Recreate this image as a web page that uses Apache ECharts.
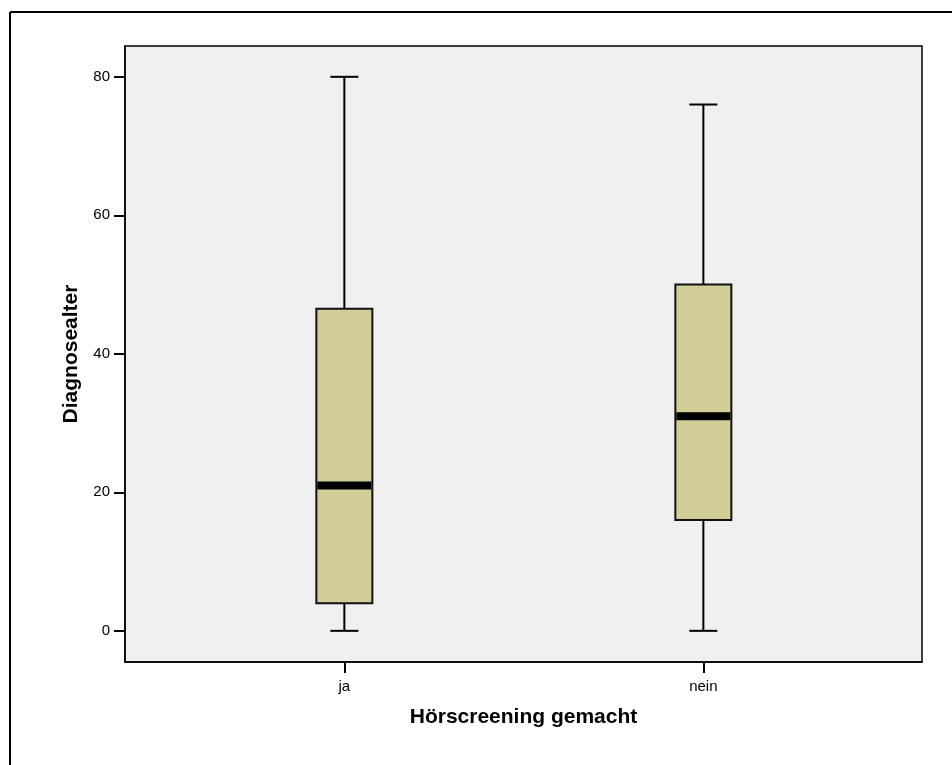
<!DOCTYPE html>
<html>
<head>
<meta charset="utf-8">
<script src="https://cdn.jsdelivr.net/npm/echarts@6/dist/echarts.min.js"></script>
<style>html,body{margin:0;padding:0;background:#fff}#c{width:952px;height:765px}</style>
</head>
<body>
<div id="c"></div>
<script>
const categories = ['ja', 'nein'];
const mins = [0, 0];
const q1s = [4, 16];
const medians = [21, 31];
const q3s = [46.5, 50];
const maxs = [80, 76];
const yTicks = [0, 20, 40, 60, 80];

const data = categories.map((c, i) => [i, mins[i], q1s[i], medians[i], q3s[i], maxs[i]]);

const chart = echarts.init(document.getElementById('c'), null, {renderer: 'canvas'});
const font = '"Liberation Sans", Arial, sans-serif';

chart.setOption({
  animation: false,
  backgroundColor: '#fff',
  graphic: [
    {type: 'line', shape: {x1: 10, y1: 12, x2: 952, y2: 12}, style: {stroke: '#000', lineWidth: 2}},
    {type: 'line', shape: {x1: 10, y1: 12, x2: 10, y2: 765}, style: {stroke: '#000', lineWidth: 2}}
  ],
  grid: {
    left: 125, right: 30, top: 46, bottom: 103,
    show: true, backgroundColor: '#f0f0f0', borderColor: '#000', borderWidth: 1.5
  },
  xAxis: {
    type: 'value', min: -0.611, max: 1.609,
    name: 'Hörscreening gemacht', nameLocation: 'middle', nameGap: 45,
    nameTextStyle: {fontFamily: font, fontWeight: 'bold', fontSize: 21, color: '#000'},
    axisLine: {show: true, onZero: false, lineStyle: {color: '#000', width: 1.5}},
    axisTick: {show: true, inside: false, length: 11, lineStyle: {color: '#000', width: 2}, customValues: [0, 1]},
    axisLabel: {
      fontFamily: font, fontSize: 15, color: '#000', margin: 17,
      customValues: [0, 1],
      formatter: v => categories[Math.round(v)]
    },
    splitLine: {show: false}
  },
  yAxis: {
    type: 'value', min: -4.5, max: 84.45,
    name: 'Diagnosealter', nameLocation: 'middle', nameGap: 43,
    nameTextStyle: {fontFamily: font, fontWeight: 'bold', fontSize: 21, color: '#000'},
    axisLine: {show: true, onZero: false, lineStyle: {color: '#000', width: 1.5}},
    axisTick: {show: true, inside: false, length: 11, lineStyle: {color: '#000', width: 2}, customValues: yTicks},
    axisLabel: {fontFamily: font, fontSize: 15, color: '#000', margin: 15, customValues: yTicks},
    splitLine: {show: false}
  },
  series: [{
    type: 'custom',
    data: data,
    clip: false,
    renderItem: function (params, api) {
      const x = api.value(0);
      const pMin = api.coord([x, api.value(1)]);
      const pQ1 = api.coord([x, api.value(2)]);
      const pMed = api.coord([x, api.value(3)]);
      const pQ3 = api.coord([x, api.value(4)]);
      const pMax = api.coord([x, api.value(5)]);
      const cx = pMed[0];
      const hw = 28, cw = 14;
      const lineStyle = {stroke: '#000', lineWidth: 2};
      return {
        type: 'group',
        children: [
          {type: 'line', shape: {x1: cx, y1: pMax[1], x2: cx, y2: pQ3[1]}, style: lineStyle},
          {type: 'line', shape: {x1: cx, y1: pQ1[1], x2: cx, y2: pMin[1]}, style: lineStyle},
          {type: 'line', shape: {x1: cx - cw, y1: pMax[1], x2: cx + cw, y2: pMax[1]}, style: lineStyle},
          {type: 'line', shape: {x1: cx - cw, y1: pMin[1], x2: cx + cw, y2: pMin[1]}, style: lineStyle},
          {type: 'rect', shape: {x: cx - hw, y: pQ3[1], width: 2 * hw, height: pQ1[1] - pQ3[1]},
            style: {fill: '#d3ce97', stroke: '#111', lineWidth: 2}},
          {type: 'line', shape: {x1: cx - hw + 1, y1: pMed[1], x2: cx + hw - 1, y2: pMed[1]},
            style: {stroke: '#000', lineWidth: 8}}
        ]
      };
    }
  }]
});
</script>
</body>
</html>
